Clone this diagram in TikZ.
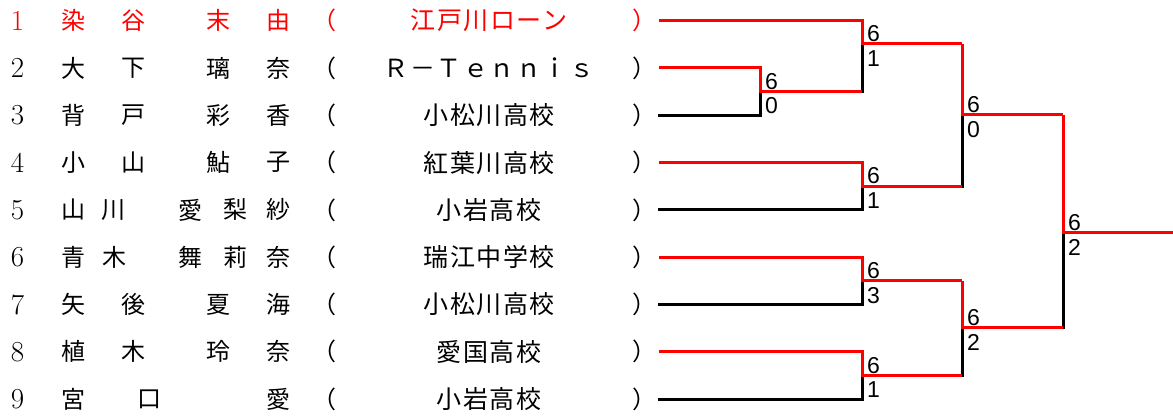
\documentclass[tikz,border=0pt]{standalone}
\usepackage{fontspec}
\newfontfamily\jpfont{Noto Sans CJK JP}
\newfontfamily\jpteam[LetterSpace=6]{Noto Sans CJK JP}
\newfontfamily\scorefont{Liberation Sans}
\definecolor{winred}{RGB}{255,0,0}
\usetikzlibrary{positioning, calc}

\tikzset{
  rank/.style={inner sep=0pt, font=\fontsize{29}{29}\selectfont},
  kanji/.style={inner sep=0pt, font=\jpfont\fontsize{24}{24}\selectfont},
  team/.style={inner sep=0pt, font=\jpteam\fontsize{25}{25}\selectfont},
  score/.style={inner sep=0pt, font=\scorefont\fontsize{23}{23}\selectfont},
  seed/.style={text=winred},
  lose/.style={line width=3pt, black, line cap=rect},
  winline/.style={line width=3pt, winred},
}

\begin{document}
\begin{tikzpicture}[x=1pt, y=-1pt]
  \useasboundingbox (0,0) rectangle (1173,419);

  % entries
  \node[rank, seed] (n1) at (17.5,20.7) {1};
  \node[kanji, seed] (n1a) at (73.5,20.7) {染};  \node[kanji, seed] (n1b) at (133,20.7) {谷};
  \node[kanji, seed] (n1c) at (218,20.7) {末};   \node[kanji, seed] (n1d) at (278,20.7) {由};
  \node[kanji, seed] (lp1) at (324,20.7) {（};   \node[team, seed] (t1) at (489,20.7) {江戸川ローン};
  \node[kanji, seed] (rp1) at (644,20.7) {）};

  \node[rank] (n2) at (17.5,68.0) {2};
  \node[kanji] (n2a) at (73.5,68.0) {大};  \node[kanji] (n2b) at (133,68.0) {下};
  \node[kanji] (n2c) at (218,68.0) {璃};   \node[kanji] (n2d) at (278,68.0) {奈};
  \node[kanji] (lp2) at (324,68.0) {（};   \node[team] (t2) at (489,68.0) {Ｒ－Ｔｅｎｎｉｓ};
  \node[kanji] (rp2) at (644,68.0) {）};

  \node[rank] (n3) at (17.5,115.3) {3};
  \node[kanji] (n3a) at (73.5,115.3) {背};  \node[kanji] (n3b) at (133,115.3) {戸};
  \node[kanji] (n3c) at (218,115.3) {彩};   \node[kanji] (n3d) at (278,115.3) {香};
  \node[kanji] (lp3) at (324,115.3) {（};   \node[team] (t3) at (489,115.3) {小松川高校};
  \node[kanji] (rp3) at (644,115.3) {）};

  \node[rank] (n4) at (17.5,162.6) {4};
  \node[kanji] (n4a) at (73,162.6) {小};  \node[kanji] (n4b) at (133,162.6) {山};
  \node[kanji] (n4c) at (218,162.6) {鮎};   \node[kanji] (n4d) at (278,162.6) {子};
  \node[kanji] (lp4) at (324,162.6) {（};   \node[team] (t4) at (489,162.6) {紅葉川高校};
  \node[kanji] (rp4) at (644,162.6) {）};

  \node[rank] (n5) at (17.5,209.9) {5};
  \node[kanji] (n5a) at (73,209.9) {山};  \node[kanji] (n5b) at (113,209.9) {川};
  \node[kanji] (n5c) at (190,209.9) {愛};  \node[kanji] (n5d) at (235,209.9) {梨};
  \node[kanji] (n5e) at (278,209.9) {紗};
  \node[kanji] (lp5) at (324,209.9) {（};   \node[team] (t5) at (489,209.9) {小岩高校};
  \node[kanji] (rp5) at (644,209.9) {）};

  \node[rank] (n6) at (17.5,257.2) {6};
  \node[kanji] (n6a) at (73,257.2) {青};  \node[kanji] (n6b) at (114,257.2) {木};
  \node[kanji] (n6c) at (190,257.2) {舞};  \node[kanji] (n6d) at (235,257.2) {莉};
  \node[kanji] (n6e) at (278,257.2) {奈};
  \node[kanji] (lp6) at (324,257.2) {（};   \node[team] (t6) at (489,257.2) {瑞江中学校};
  \node[kanji] (rp6) at (644,257.2) {）};

  \node[rank] (n7) at (17.5,304.5) {7};
  \node[kanji] (n7a) at (73,304.5) {矢};  \node[kanji] (n7b) at (133,304.5) {後};
  \node[kanji] (n7c) at (218,304.5) {夏};   \node[kanji] (n7d) at (278,304.5) {海};
  \node[kanji] (lp7) at (324,304.5) {（};   \node[team] (t7) at (489,304.5) {小松川高校};
  \node[kanji] (rp7) at (644,304.5) {）};

  \node[rank] (n8) at (17.5,351.8) {8};
  \node[kanji] (n8a) at (73,351.8) {植};  \node[kanji] (n8b) at (133,351.8) {木};
  \node[kanji] (n8c) at (218,351.8) {玲};   \node[kanji] (n8d) at (278,351.8) {奈};
  \node[kanji] (lp8) at (324,351.8) {（};   \node[team] (t8) at (489,351.8) {愛国高校};
  \node[kanji] (rp8) at (644,351.8) {）};

  \node[rank] (n9) at (17.5,399.1) {9};
  \node[kanji] (n9a) at (73,399.1) {宮};  \node[kanji] (n9b) at (149,399.1) {口};
  \node[kanji] (n9c) at (278,399.1) {愛};
  \node[kanji] (lp9) at (324,399.1) {（};   \node[team] (t9) at (489,399.1) {小岩高校};
  \node[kanji] (rp9) at (644,399.1) {）};

  % bracket
  \coordinate (s1) at (659,20.7);  \coordinate (s2) at (659,68.0);
  \coordinate (s3) at (659,115.3); \coordinate (s4) at (659,162.6);
  \coordinate (s5) at (659,209.9); \coordinate (s6) at (659,257.2);
  \coordinate (s7) at (659,304.5); \coordinate (s8) at (659,351.8);
  \coordinate (s9) at (659,399.1);
  \coordinate (jA) at (760,91.5);  \coordinate (jB) at (862,44);
  \coordinate (jC) at (862,186.3); \coordinate (jD) at (962,115);
  \coordinate (jE) at (862,281);   \coordinate (jF) at (862,375.5);
  \coordinate (jG) at (962,328);   \coordinate (jH) at (1063,233);
  \coordinate (champ) at (1173,233);

  \draw[lose] (s3) -| (jA);  \draw[lose] (jA -| jB) -- (jB);
  \draw[lose] (s5) -| (jC);  \draw[lose] (jC -| jD) -- (jD);
  \draw[lose] (s7) -| (jE);  \draw[lose] (s9) -| (jF);
  \draw[lose] (jF -| jG) -- (jG); \draw[lose] (jG -| jH) -- (jH);

  \draw[winline] (s2) -| (jA) -- (jA -| jB);
  \draw[winline] (s1) -| (jB) -- (jB -| jD);
  \draw[winline] (s4) -| (jC) -- (jC -| jD);
  \draw[winline] (jB -| jD) -- (jD) -- (jD -| jH);
  \draw[winline] (s6) -| (jE) -- (jE -| jG);
  \draw[winline] (s8) -| (jF) -- (jF -| jG);
  \draw[winline] (jE -| jG) -- (jG) -- (jG -| jH);
  \draw[winline] (jD -| jH) -- (jH) -- (champ);

  % scores
  \node[score, anchor=south west] (aW) at ([shift={(5pt,2pt)}]jA) {6};
  \node[score, anchor=north west] (aL) at ([shift={(5pt,-6pt)}]jA) {0};
  \node[score, anchor=south west] (bW) at ([shift={(5pt,2pt)}]jB) {6};
  \node[score, anchor=north west] (bL) at ([shift={(5pt,-6pt)}]jB) {1};
  \node[score, anchor=south west] (cW) at ([shift={(5pt,2pt)}]jC) {6};
  \node[score, anchor=north west] (cL) at ([shift={(5pt,-6pt)}]jC) {1};
  \node[score, anchor=south west] (dW) at ([shift={(5pt,2pt)}]jD) {6};
  \node[score, anchor=north west] (dL) at ([shift={(5pt,-6pt)}]jD) {0};
  \node[score, anchor=south west] (eW) at ([shift={(5pt,2pt)}]jE) {6};
  \node[score, anchor=north west] (eL) at ([shift={(5pt,-6pt)}]jE) {3};
  \node[score, anchor=south west] (fW) at ([shift={(5pt,2pt)}]jF) {6};
  \node[score, anchor=north west] (fL) at ([shift={(5pt,-6pt)}]jF) {1};
  \node[score, anchor=south west] (gW) at ([shift={(5pt,2pt)}]jG) {6};
  \node[score, anchor=north west] (gL) at ([shift={(5pt,-6pt)}]jG) {2};
  \node[score, anchor=south west] (hW) at ([shift={(5pt,2pt)}]jH) {6};
  \node[score, anchor=north west] (hL) at ([shift={(5pt,-6pt)}]jH) {2};
\end{tikzpicture}
\end{document}
